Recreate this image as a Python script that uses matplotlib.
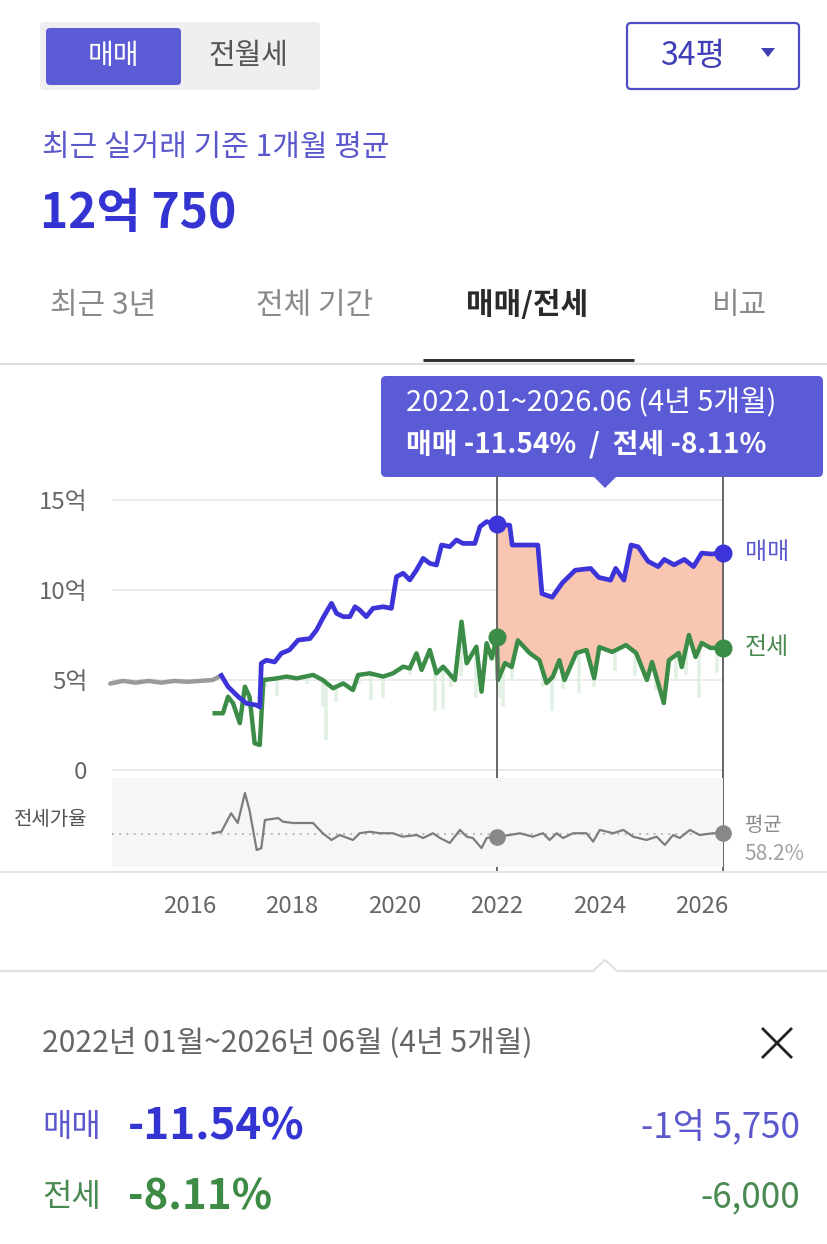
import numpy as np
import matplotlib
matplotlib.use('Agg')
import matplotlib.pyplot as plt
from matplotlib.patches import FancyBboxPatch, Polygon

plt.rcParams['font.family'] = ['Noto Sans CJK KR', 'DejaVu Sans']

W, H = 827, 1244

# ---- data ----
sale_gray_x = [2014.45, 2014.7, 2014.95, 2015.2, 2015.45, 2015.7, 2015.95, 2016.2, 2016.45, 2016.62]
sale_gray_y = [4.8, 4.95, 4.85, 4.95, 4.85, 4.95, 4.9, 4.95, 5.0, 5.25]

sale_x = [2016.62, 2016.75, 2016.95, 2017.11, 2017.31, 2017.37, 2017.40, 2017.5, 2017.66, 2017.79,
          2017.95, 2018.12, 2018.35, 2018.48, 2018.6, 2018.77, 2018.87, 2019.0, 2019.13, 2019.23,
          2019.32, 2019.45, 2019.58, 2019.78, 2019.94, 2020.04, 2020.17, 2020.3, 2020.43, 2020.56,
          2020.69, 2020.82, 2020.92, 2021.08, 2021.21, 2021.34, 2021.57, 2021.67, 2021.8, 2022.0,
          2022.25, 2022.3, 2022.8, 2022.88, 2023.08, 2023.28, 2023.53, 2023.83, 2023.99, 2024.22,
          2024.32, 2024.48, 2024.62, 2024.76, 2024.95, 2025.15, 2025.27, 2025.46, 2025.66, 2025.84,
          2026.0, 2026.2, 2026.42]
sale_y = [5.25, 4.63, 4.07, 3.7, 3.6, 3.5, 5.93, 6.1, 6.0, 6.48,
          6.67, 7.22, 7.3, 7.78, 8.43, 9.26, 8.7, 8.52, 8.52, 9.07,
          8.89, 8.52, 8.98, 9.07, 8.98, 10.74, 10.93, 10.56, 11.11, 11.76,
          11.48, 11.39, 12.5, 12.41, 12.78, 12.59, 12.59, 13.52, 13.8, 13.65,
          13.6, 12.5, 12.5, 9.8, 9.6, 10.4, 11.1, 11.2, 10.7, 10.55,
          11.2, 10.55, 12.5, 12.4, 11.6, 11.3, 11.7, 11.4, 11.7, 11.3,
          12.05, 12.0, 12.08]

jeonse_x = [2016.49, 2016.65, 2016.75, 2016.85, 2016.98, 2017.08, 2017.17, 2017.27, 2017.37, 2017.44,
            2017.7, 2017.89, 2018.09, 2018.41, 2018.6, 2018.8, 2019.0, 2019.19, 2019.29, 2019.52,
            2019.78, 2019.97, 2020.17, 2020.3, 2020.43, 2020.53, 2020.69, 2020.82, 2020.95, 2021.18,
            2021.31, 2021.41, 2021.6, 2021.7, 2021.8, 2021.9,
            2022.0, 2022.02, 2022.16, 2022.29, 2022.41, 2022.64, 2022.83, 2022.97, 2023.09, 2023.22,
            2023.32, 2023.55, 2023.75, 2023.9, 2024.0, 2024.25, 2024.52, 2024.72, 2024.93, 2025.03,
            2025.26, 2025.36, 2025.55, 2025.61, 2025.75, 2025.88, 2026.0, 2026.17, 2026.42]
jeonse_y = [3.15, 3.15, 4.07, 3.7, 2.6, 4.63, 4.07, 1.48, 1.39, 5.0,
            5.09, 5.19, 5.09, 5.28, 5.0, 4.54, 4.81, 4.44, 5.28, 5.37,
            5.19, 5.37, 5.74, 5.65, 6.48, 5.56, 6.67, 5.37, 5.74, 5.0,
            8.24, 5.93, 6.85, 4.35, 7.04, 6.2,
            7.4, 5.0, 5.94, 5.72, 7.2, 6.5, 6.1, 4.83, 5.17, 6.1,
            5.0, 6.5, 6.67, 5.1, 6.83, 6.56, 6.94, 6.5, 5.0, 6.0,
            3.72, 6.1, 6.5, 5.72, 7.5, 6.28, 7.06, 6.78, 6.8]

# faint monthly lows under the jeonse line
low_x = [2017.5, 2017.7, 2018.3, 2018.6, 2018.67, 2018.85, 2019.3, 2019.55, 2019.78, 2020.3,
         2020.8, 2020.95, 2021.1, 2021.3, 2021.6, 2022.05, 2022.12, 2022.3, 2022.9, 2023.08,
         2023.3, 2023.6, 2023.9, 2024.3, 2024.7, 2025.1, 2025.5, 2025.7, 2025.95, 2026.3]
low_y = [4.6, 4.1, 4.8, 3.5, 1.67, 3.8, 4.8, 3.9, 4.0, 5.3,
         3.3, 3.4, 4.6, 5.2, 4.0, 4.0, 3.5, 5.0, 4.6, 3.3,
         4.5, 4.3, 4.6, 5.5, 5.2, 4.4, 5.0, 5.3, 4.0, 5.4]

ratio_x = [2016.45, 2016.62, 2016.81, 2016.94, 2017.08, 2017.17, 2017.31, 2017.4, 2017.47, 2017.73,
           2017.82, 2018.02, 2018.41, 2018.6, 2018.77, 2018.93, 2019.19, 2019.32, 2019.52, 2019.71,
           2019.97, 2020.16, 2020.43, 2020.56, 2020.75, 2020.89, 2021.08, 2021.28, 2021.41, 2021.53,
           2021.7, 2021.8, 2021.92, 2022.0, 2022.25, 2022.45, 2022.7, 2022.9, 2023.03, 2023.17,
           2023.29, 2023.49, 2023.75, 2023.88, 2024.01, 2024.27, 2024.47, 2024.66, 2024.92, 2025.12,
           2025.28, 2025.44, 2025.57, 2025.77, 2025.96, 2026.22, 2026.42]
ratio_y = [58.7, 59.7, 72, 65.5, 85.5, 74, 47.5, 48.8, 67.5, 68.8,
           66.4, 65.5, 65.5, 58.7, 54.2, 57.5, 54.2, 58.7, 59.7, 58.7,
           58.7, 56.4, 57.5, 55.5, 58.7, 55.5, 52.2, 60.9, 56.4, 55.5,
           48.8, 55.5, 56.4, 56.4, 57.5, 58.7, 56.4, 58.7, 54.2, 58.7,
           55.5, 58.7, 58.7, 53.1, 60.9, 58.7, 60.9, 56.4, 54.2, 56.4,
           50.9, 57.5, 55.5, 60.9, 57.5, 58.7, 58.7]
ratio_avg = 58.2

period_start, period_end = 2022.0, 2026.42
y_ticks = [0, 5, 10, 15]
y_labels = ['0', '5억', '10억', '15억']
x_ticks = [2016, 2018, 2020, 2022, 2024, 2026]

BLUE = '#3c34d8'
GREEN = '#3a8c46'
PURPLE = '#5b5bd6'


def fs(px):
    return px * 0.72


def ax_rect(left, top, right, bottom):
    return [left / W, 1 - bottom / H, (right - left) / W, (bottom - top) / H]


fig = plt.figure(figsize=(W / 100, H / 100), dpi=100)
fig.patch.set_facecolor('white')

# overlay for the UI pieces, pixel coordinates
ov = fig.add_axes([0, 0, 1, 1])
ov.set_xlim(0, W)
ov.set_ylim(H, 0)
ov.axis('off')
ov.set_zorder(0)

# toggle buttons
ov.add_patch(FancyBboxPatch((40, 22), 280, 68, boxstyle='round,pad=0,rounding_size=4',
                            fc='#efeff1', ec='none'))
ov.add_patch(FancyBboxPatch((46, 28), 135, 57, boxstyle='round,pad=0,rounding_size=4',
                            fc=PURPLE, ec='none'))
ov.text(113, 56, '매매', color='white', fontsize=fs(28), ha='center', va='center')
ov.text(248, 56, '전월세', color='#555555', fontsize=fs(29), ha='center', va='center')
ov.add_patch(FancyBboxPatch((627, 23), 172, 66, boxstyle='round,pad=0,rounding_size=4',
                            fc='white', ec='#4d4dc4', lw=1.6))
ov.text(692, 56, '34평', color='#3f3fb8', fontsize=fs(32), ha='center', va='center')
ov.add_patch(Polygon([(761, 48), (775, 48), (768, 57)], closed=True, fc='#3f3fb8', ec='none'))

ov.text(42, 147, '최근 실거래 기준 1개월 평균', color='#5a58cc', fontsize=fs(30), ha='left', va='center')
ov.text(40, 213, '12억 750', color='#3434d2', fontsize=fs(48), fontweight='bold', ha='left', va='center')

tabs = ['최근 3년', '전체 기간', '매매/전세', '비교']
tab_cx = [103, 315, 527, 740]
for t, cx in zip(tabs, tab_cx):
    sel = t == '매매/전세'
    ov.text(cx, 305, t, fontsize=fs(30), ha='center', va='center',
            color='#2a2a2a' if sel else '#8a8a8a', fontweight='bold' if sel else 'normal')
ov.plot([0, W], [364, 364], color='#dedede', lw=1.5)
ov.plot([423, 634], [360, 360], color='#333333', lw=2.2, solid_capstyle='butt')

# tooltip
ov.add_patch(FancyBboxPatch((381, 376), 442, 101, boxstyle='round,pad=0,rounding_size=5',
                            fc=PURPLE, ec='none', zorder=5))
ov.add_patch(Polygon([(593, 476), (617, 476), (605, 488)], closed=True, fc=PURPLE, ec='none', zorder=5))
ov.text(406, 402, '2022.01~2026.06 (4년 5개월)', color='white', fontsize=fs(29),
        ha='left', va='center', zorder=6)
ov.text(406, 444, '매매 -11.54%  /  전세 -8.11%', color='white', fontsize=fs(28),
        fontweight='bold', ha='left', va='center', zorder=6)

# separators
ov.plot([0, W], [872, 872], color='#e3e3e3', lw=1.5)
ov.plot([0, 593, 605, 617, W], [971, 971, 960, 971, 971], color='#e0e0e0', lw=1.5)

# bottom summary
ov.text(42, 1043, '2022년 01월~2026년 06월 (4년 5개월)', color='#666666', fontsize=fs(30),
        ha='left', va='center')
ov.plot([763, 791], [1029, 1057], color='#222222', lw=2)
ov.plot([763, 791], [1057, 1029], color='#222222', lw=2)
ov.text(42, 1127, '매매', color='#5a58cc', fontsize=fs(32), ha='left', va='center')
ov.text(128, 1127, '-11.54%', color='#3434d2', fontsize=fs(44), fontweight='bold', ha='left', va='center')
ov.text(800, 1127, '-1억 5,750', color='#5a58cc', fontsize=fs(35), ha='right', va='center')
ov.text(42, 1197, '전세', color='#4a8a52', fontsize=fs(32), ha='left', va='center')
ov.text(128, 1197, '-8.11%', color='#3d8b45', fontsize=fs(42), fontweight='bold', ha='left', va='center')
ov.text(800, 1197, '-6,000', color='#4a8a52', fontsize=fs(35), ha='right', va='center')

# ---- main price chart ----
X_LEFT, X_RIGHT = 2014.25, 2026.65
grid_x0, grid_x1 = 2014.48, 2026.4

ax = fig.add_axes(ax_rect(100, 470, 735, 775))
ax.set_zorder(2)
ax.patch.set_alpha(0)
ax.set_xlim(X_LEFT, X_RIGHT)
ax.set_ylim(-0.28, 16.67)
for s in ax.spines.values():
    s.set_visible(False)
ax.set_xticks([])
ax.set_yticks(y_ticks, y_labels)
ax.tick_params(axis='y', length=0, pad=9, labelsize=fs(24), labelcolor='#666666')
ax.hlines(y_ticks, grid_x0, grid_x1, color='#e8e8e8', lw=1.2, zorder=0)

# salmon area between sale and jeonse in the selected period
sx, sy = np.array(sale_x), np.array(sale_y)
jx, jy = np.array(jeonse_x), np.array(jeonse_y)
ms = (sx >= period_start) & (sx <= period_end)
mj = (jx >= period_start) & (jx <= period_end)
poly = list(zip(sx[ms], sy[ms])) + list(zip(jx[mj][::-1], jy[mj][::-1]))
ax.add_patch(Polygon(poly, closed=True, fc='#f9c6b2', ec='none', zorder=1))

# faint low spikes
lx = np.array(low_x)
ax.vlines(lx, low_y, np.interp(lx, jx, jy), color='#e2f1e4', lw=2.6, zorder=1)

ax.plot(sale_gray_x, sale_gray_y, color='#9a9a9a', lw=3.2, zorder=3, solid_capstyle='round')
ax.plot(sale_x, sale_y, color=BLUE, lw=3.4, zorder=4, solid_joinstyle='round')
ax.plot(jeonse_x, jeonse_y, color=GREEN, lw=3.2, zorder=3, solid_joinstyle='round')

ax.axvline(period_start, ymin=-0.31, ymax=0.977, color='#666666', lw=1.4, clip_on=False, zorder=5)
ax.axvline(period_end, ymin=-0.31, ymax=0.977, color='#666666', lw=1.4, clip_on=False, zorder=5)

s0 = sale_y[sale_x.index(period_start)]
s1 = sale_y[sale_x.index(period_end)]
j0 = jeonse_y[jeonse_x.index(period_start)]
j1 = jeonse_y[jeonse_x.index(period_end)]
ax.plot([period_start, period_end], [s0, s1], 'o', color=BLUE, ms=12, zorder=6, clip_on=False)
ax.plot([period_start, period_end], [j0, j1], 'o', color=GREEN, ms=12, zorder=6, clip_on=False)
ax.text(period_end + 0.42, s1, '매매', color='#5a58cc', fontsize=fs(24), va='center', ha='left')
ax.text(period_end + 0.42, j1, '전세', color='#4a8a52', fontsize=fs(24), va='center', ha='left')

# ---- jeonse ratio strip ----
ax2 = fig.add_axes(ax_rect(100, 778, 735, 867))
ax2.set_zorder(2)
ax2.patch.set_alpha(0)
ax2.set_xlim(X_LEFT, X_RIGHT)
ax2.set_ylim(36.2, 95.5)
for s in ax2.spines.values():
    s.set_visible(False)
ax2.set_yticks([])
ax2.axvspan(grid_x0, period_end, color='#f6f6f6', lw=0, zorder=0)
ax2.hlines(ratio_avg, grid_x0, period_end, color='#b0b0b0', lw=1.3, linestyles=(0, (1, 3)), zorder=1)
ax2.plot(ratio_x, ratio_y, color='#7d7d7d', lw=1.6, zorder=2)
r0 = ratio_y[ratio_x.index(period_start)]
r1 = ratio_y[ratio_x.index(period_end)]
ax2.plot([period_start, period_end], [r0, r1], 'o', color='#888888', ms=11, zorder=6, clip_on=False)
ax2.text(X_LEFT - 0.24, 68, '전세가율', color='#555555', fontsize=fs(20), ha='right', va='center')
ax2.text(period_end + 0.42, 64, '평균', color='#8a8a8a', fontsize=fs(20), ha='left', va='center')
ax2.text(period_end + 0.42, 45, f'{ratio_avg}%', color='#a0a0a0', fontsize=fs(21), ha='left', va='center')

ax2.set_xticks(x_ticks, [str(t) for t in x_ticks])
ax2.tick_params(axis='x', length=0, pad=20, labelsize=fs(24), labelcolor='#666666')

fig.savefig('out.png', dpi=100, facecolor='white')
